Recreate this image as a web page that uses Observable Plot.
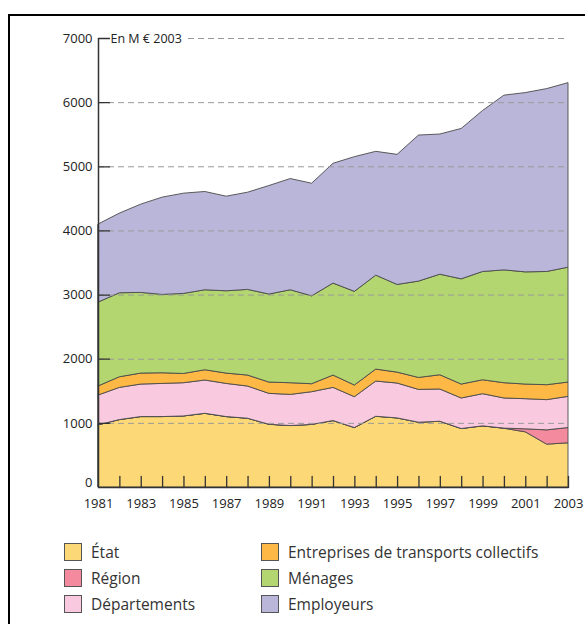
<!DOCTYPE html>
<html>
<head>
<meta charset="utf-8">
<script src="https://cdn.jsdelivr.net/npm/d3@7"></script>
<script src="https://cdn.jsdelivr.net/npm/@observablehq/plot@0.6"></script>
<style>
  html, body { margin: 0; padding: 0; background: #fff; }
  #wrap { position: relative; width: 585px; height: 624px; overflow: hidden; font-family: "Open Sans", sans-serif; }
  #frame { position: absolute; left: 8px; top: 14px; width: 600px; height: 700px; border-top: 2px solid #000; border-left: 2px solid #000; }
  #chart { position: absolute; left: 0; top: 0; }
  #legend { position: absolute; left: 0; top: 0; }
  .item { position: absolute; display: flex; align-items: center; font-size: 15.5px; color: #333; white-space: nowrap; }
  .sw { width: 16px; height: 16px; border: 1px solid #555; margin-right: 9px; box-sizing: content-box; }
</style>
</head>
<body>
<div id="wrap">
  <div id="frame"></div>
  <div id="chart"></div>
  <div id="legend"></div>
</div>
<script>
// Categories
const years = [1981, 1982, 1983, 1984, 1985, 1986, 1987, 1988, 1989, 1990, 1991, 1992,
               1993, 1994, 1995, 1996, 1997, 1998, 1999, 2000, 2001, 2002, 2003];
const seriesNames = ["État", "Région", "Départements", "Entreprises de transports collectifs", "Ménages", "Employeurs"];
const seriesColors = ["#fdd877", "#f38a9e", "#f9c9df", "#fdb845", "#b4d670", "#bab6da"];

// Series values (M € 2003)
const etat        = [969, 1051, 1098, 1098, 1108, 1149, 1098, 1072, 978, 958, 976, 1036, 927, 1103, 1077, 1010, 1025, 912, 953, 916, 860, 668, 689];
const region      = [0, 0, 0, 0, 0, 0, 0, 0, 0, 0, 0, 0, 0, 0, 0, 0, 0, 0, 0, 2, 47, 223, 238];
const departements= [465, 502, 507, 517, 518, 519, 517, 502, 482, 486, 510, 517, 481, 549, 544, 512, 503, 476, 502, 470, 470, 471, 486];
const entreprises = [141, 166, 171, 166, 144, 160, 161, 171, 176, 182, 124, 192, 182, 186, 170, 186, 222, 217, 217, 238, 228, 233, 223];
const menages     = [1308, 1309, 1258, 1222, 1248, 1247, 1283, 1336, 1372, 1449, 1370, 1434, 1460, 1465, 1367, 1502, 1568, 1640, 1688, 1759, 1749, 1765, 1791];
const employeurs  = [1216, 1242, 1376, 1516, 1563, 1532, 1475, 1515, 1692, 1734, 1756, 1868, 2100, 1930, 2028, 2277, 2185, 2345, 2510, 2724, 2795, 2851, 2877];

// Tick labels
const yTicks = [0, 1000, 2000, 3000, 4000, 5000, 6000, 7000];
const xLabels = [1981, 1983, 1985, 1987, 1989, 1991, 1993, 1995, 1997, 1999, 2001, 2003];
const unitLabel = "En M € 2003";

const seriesValues = [etat, region, departements, entreprises, menages, employeurs];
const table = [];
seriesNames.forEach((name, i) => {
  years.forEach((yr, j) => table.push({year: yr, series: name, value: seriesValues[i][j]}));
});

const lineShape = {draw(ctx, l) { ctx.moveTo(0, 0); ctx.lineTo(0, -l); }};

const chart = Plot.plot({
  width: 585,
  height: 515,
  marginLeft: 98,
  marginRight: 17,
  marginTop: 38,
  marginBottom: 28,
  style: {fontFamily: "'Open Sans', sans-serif", fontSize: "13px", color: "#222", background: "transparent", overflow: "visible"},
  x: {type: "linear", domain: [years[0], years[years.length - 1]]},
  y: {domain: [yTicks[0], yTicks[yTicks.length - 1]]},
  color: {domain: seriesNames, range: seriesColors},
  marks: [
    Plot.areaY(table, {x: "year", y: "value", z: "series", fill: "series", order: seriesNames,
      stroke: "#4a4a4a", strokeWidth: 0.9, strokeLinejoin: "round"}),
    Plot.ruleY(yTicks.slice(1), {stroke: "#9a9a9a", strokeWidth: 1, strokeDasharray: "6,4"}),
    Plot.text([unitLabel], {x: years[0], y: yTicks[yTicks.length - 1], text: d => d, dx: 12, textAnchor: "start",
      fill: "#222", stroke: "white", strokeWidth: 9, fontSize: 12.5}),
    Plot.vector(yTicks.slice(1), {x: years[0], y: d => d, length: 11, rotate: 90, anchor: "start",
      shape: lineShape, stroke: "#333", strokeWidth: 1.3}),
    Plot.vector(years.slice(1), {x: d => d, y: yTicks[0], length: 11, rotate: 0, anchor: "start",
      shape: lineShape, stroke: "#333", strokeWidth: 1.3}),
    Plot.ruleX([years[0]], {y1: yTicks[0], y2: yTicks[yTicks.length - 1], stroke: "#333", strokeWidth: 1.5}),
    Plot.ruleY([yTicks[0]], {stroke: "#333", strokeWidth: 1.5}),
    Plot.axisY(yTicks.slice(1), {tickSize: 0, tickPadding: 6, tickFormat: d => String(d), label: null, fontSize: 13}),
    Plot.axisY(yTicks.slice(0, 1), {tickSize: 0, tickPadding: 6, tickFormat: d => String(d), label: null, fontSize: 13, dy: -5}),
    Plot.axisX(xLabels, {tickSize: 0, tickPadding: 11, tickFormat: d => String(d), label: null, fontSize: 13})
  ]
});
document.getElementById("chart").appendChild(chart);

// Legend
const legendPos = [
  {left: 64, top: 541}, {left: 64, top: 567}, {left: 64, top: 593},
  {left: 261, top: 541}, {left: 261, top: 567}, {left: 261, top: 593}
];
const legend = document.getElementById("legend");
seriesNames.forEach((name, i) => {
  const it = document.createElement("div");
  it.className = "item";
  it.style.left = legendPos[i].left + "px";
  it.style.top = legendPos[i].top + "px";
  const sw = document.createElement("div");
  sw.className = "sw";
  sw.style.background = seriesColors[i];
  const tx = document.createElement("span");
  tx.textContent = name;
  it.appendChild(sw);
  it.appendChild(tx);
  legend.appendChild(it);
});
</script>
</body>
</html>
